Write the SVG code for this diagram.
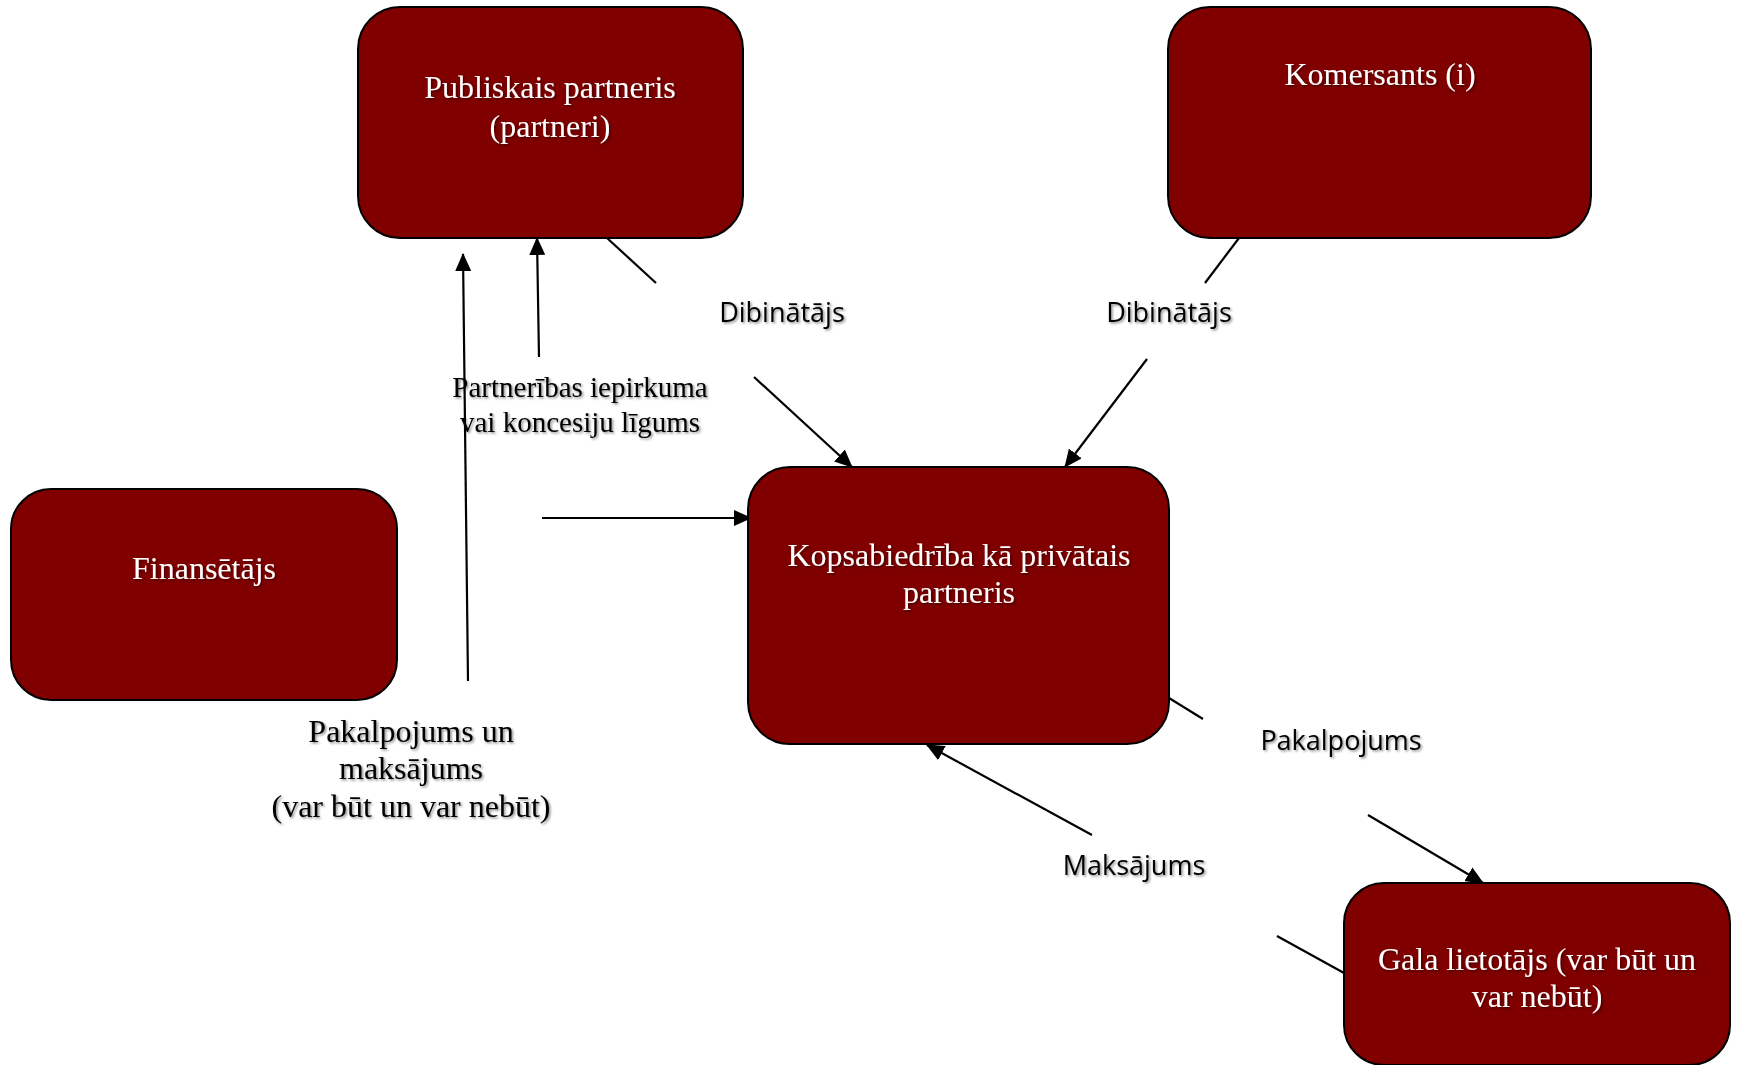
<svg xmlns="http://www.w3.org/2000/svg" width="1737" height="1065" viewBox="0 0 1737 1065">
  <defs>
    <marker id="arrow" markerUnits="userSpaceOnUse" markerWidth="18" markerHeight="16" viewBox="0 0 18 16" refX="17" refY="8" orient="auto">
      <path d="M0,0 L18,8 L0,16 Z" fill="#000"/>
    </marker>
    <filter id="shadow" x="-10%" y="-30%" width="120%" height="160%">
      <feDropShadow dx="1.5" dy="1.5" stdDeviation="1" flood-color="#000" flood-opacity="0.45"/>
    </filter>
    <style>
      .box { fill: #800000; stroke: #000; stroke-width: 2; }
      .nt { font-family: "Liberation Serif", "Times New Roman", serif; font-size: 32px; fill: #fff; text-anchor: middle; filter: url(#shadow); }
      .st { font-family: "Liberation Serif", "Times New Roman", serif; fill: #000; text-anchor: middle; filter: url(#shadow); }
      .ct { font-family: "Open Sans", "Noto Sans", sans-serif; font-size: 27px; fill: #000; text-anchor: middle; filter: url(#shadow); }
      .ln { stroke: #000; stroke-width: 2.2; fill: none; }
    </style>
  </defs>
  <rect width="1737" height="1065" fill="#fff"/>

  <g id="connectors">
    <line class="ln" x1="607" y1="238" x2="656" y2="283"/>
    <line class="ln" x1="754" y1="377" x2="852" y2="467" marker-end="url(#arrow)"/>
    <line class="ln" x1="1239" y1="238" x2="1205" y2="283"/>
    <line class="ln" x1="1147" y1="359" x2="1065" y2="467" marker-end="url(#arrow)"/>
    <line class="ln" x1="539" y1="357" x2="537" y2="238" marker-end="url(#arrow)"/>
    <line class="ln" x1="468" y1="681" x2="463" y2="254" marker-end="url(#arrow)"/>
    <line class="ln" x1="542" y1="518" x2="751" y2="518" marker-end="url(#arrow)"/>
    <line class="ln" x1="1169" y1="698" x2="1203" y2="719"/>
    <line class="ln" x1="1368" y1="815" x2="1483" y2="883" marker-end="url(#arrow)"/>
    <line class="ln" x1="1344" y1="973" x2="1277" y2="936"/>
    <line class="ln" x1="1092" y1="835" x2="927" y2="745" marker-end="url(#arrow)"/>
  </g>

  <g id="labels">
    <text class="ct" x="782" y="322">Dibinātājs</text>
    <text class="ct" x="1169" y="322">Dibinātājs</text>
    <text class="st" x="580" font-size="29"><tspan x="580" y="397">Partnerības iepirkuma</tspan><tspan x="580" y="432">vai koncesiju līgums</tspan></text>
    <text class="st" font-size="32"><tspan x="411" y="742">Pakalpojums un</tspan><tspan x="411" y="779">maksājums</tspan><tspan x="411" y="817">(var būt un var nebūt)</tspan></text>
    <text class="ct" x="1341" y="750">Pakalpojums</text>
    <text class="ct" x="1134" y="875">Maksājums</text>
  </g>

  <g id="node-publiskais">
    <rect class="box" x="358" y="7" width="385" height="231" rx="42" ry="42"/>
    <text class="nt"><tspan x="550" y="98">Publiskais partneris</tspan><tspan x="550" y="137">(partneri)</tspan></text>
  </g>

  <g id="node-komersants">
    <rect class="box" x="1168" y="7" width="423" height="231" rx="42" ry="42"/>
    <text class="nt" x="1380" y="85">Komersants (i)</text>
  </g>

  <g id="node-finansetajs">
    <rect class="box" x="11" y="489" width="386" height="211" rx="40" ry="40"/>
    <text class="nt" x="204" y="579">Finansētājs</text>
  </g>

  <g id="node-kopsabiedriba">
    <rect class="box" x="748" y="467" width="421" height="277" rx="42" ry="42"/>
    <text class="nt"><tspan x="959" y="566">Kopsabiedrība kā privātais</tspan><tspan x="959" y="603">partneris</tspan></text>
  </g>

  <g id="node-gala">
    <rect class="box" x="1344" y="883" width="386" height="182" rx="40" ry="40"/>
    <text class="nt"><tspan x="1537" y="970">Gala lietotājs (var būt un</tspan><tspan x="1537" y="1007">var nebūt)</tspan></text>
  </g>
</svg>
